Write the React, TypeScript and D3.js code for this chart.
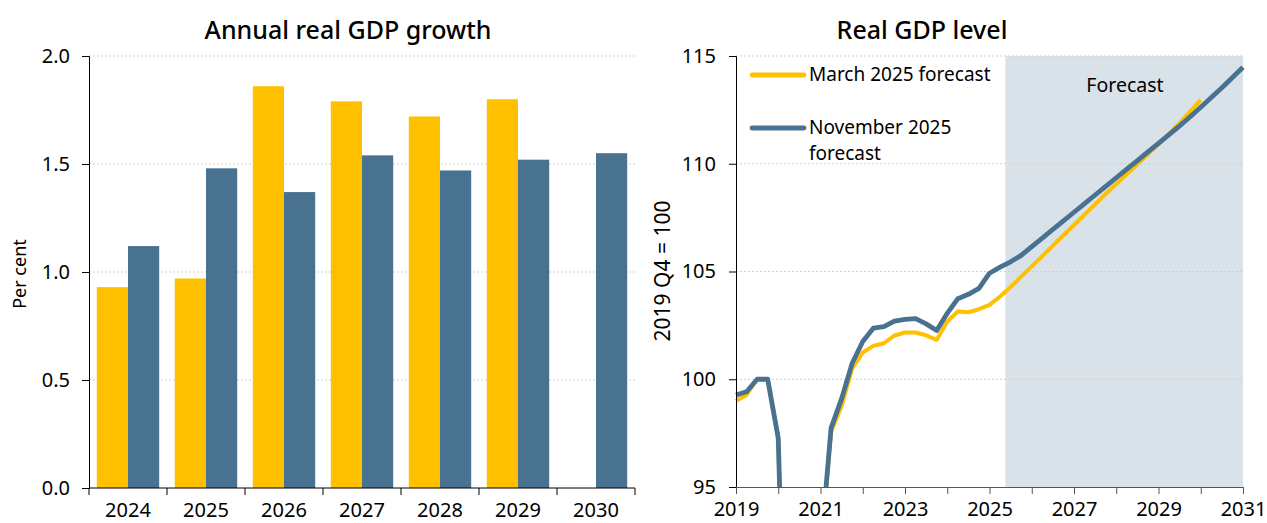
import React, { useRef, useEffect } from 'react';
import * as d3 from 'd3';

// Left panel: annual real GDP growth (per cent)
const barYears = ['2024', '2025', '2026', '2027', '2028', '2029', '2030'];
const marchGrowth = [0.93, 0.97, 1.86, 1.79, 1.72, 1.8, null];
const novemberGrowth = [1.12, 1.48, 1.37, 1.54, 1.47, 1.52, 1.55];
const growthTicks = [0, 0.5, 1.0, 1.5, 2.0];

// Right panel: quarterly real GDP level, 2019 Q4 = 100, first point 2019 Q1
const levelStartYear = 2019;
const marchLevel = [
  98.99, 99.27, 100.0, 100.0,
  97.26, 79.0, 91.8, 93.2,
  91.8, 97.57, 98.75, 100.5,
  101.24, 101.55, 101.67, 102.03,
  102.17, 102.17, 102.04, 101.83,
  102.68, 103.14, 103.11, 103.25,
  103.45, 103.84, 104.28, 104.76,
  105.24, 105.72, 106.2, 106.68,
  107.16, 107.64, 108.12, 108.6,
  109.06, 109.52, 109.98, 110.44,
  110.92, 111.4, 111.9, 112.42,
  112.96,
];
const novemberLevel = [
  99.27, 99.42, 100.0, 100.0,
  97.26, 79.5, 92.0, 93.5,
  92.0, 97.73, 99.1, 100.74,
  101.75, 102.37, 102.44, 102.7,
  102.78, 102.81, 102.57, 102.26,
  103.06, 103.74, 103.94, 104.22,
  104.92, 105.2, 105.45, 105.75,
  106.15, 106.55, 106.95, 107.35,
  107.75, 108.15, 108.55, 108.95,
  109.35, 109.75, 110.15, 110.55,
  110.95, 111.35, 111.76, 112.18,
  112.62, 113.07, 113.53, 114.0,
  114.48,
];
const levelTicks = [95, 100, 105, 110, 115];
const yearTicks = d3.range(2019, 2032);
const forecastStart = 2025.375;

const legendLabels = [['March 2025 forecast'], ['November 2025', 'forecast']];
const YELLOW = '#ffc000';
const BLUE = '#48728f';
const FONT = "'Noto Sans', 'DejaVu Sans', sans-serif";

const App = () => {
  const svgRef = useRef<SVGSVGElement | null>(null);

  useEffect(() => {
    if (!svgRef.current) return;
    const svg = d3.select(svgRef.current);
    svg.selectAll('*').remove();
    svg.attr('font-family', FONT);

    // ---------- left: bars ----------
    const x = d3.scaleBand<string>()
      .domain(barYears)
      .range([89, 635])
      .paddingInner(0.2)
      .paddingOuter(0.1);
    const y = d3.scaleLinear().domain([0, 2]).range([488, 56]);
    const half = x.bandwidth() / 2;
    const edge = x.step() * 0.1;

    const left = svg.append('g');

    left.append('text')
      .attr('x', 348)
      .attr('y', 39)
      .attr('text-anchor', 'middle')
      .attr('font-size', 25)
      .attr('font-weight', 500)
      .text('Annual real GDP growth');

    left.selectAll('.grid')
      .data(growthTicks.slice(1))
      .enter()
      .append('line')
      .attr('x1', 89)
      .attr('x2', 635)
      .attr('y1', d => y(d))
      .attr('y2', d => y(d))
      .attr('stroke', '#cfcfcf')
      .attr('stroke-dasharray', '2,2');

    left.selectAll('.bar-m')
      .data(barYears.map((c, i) => ({ c, v: marchGrowth[i] })).filter(d => d.v != null))
      .enter()
      .append('rect')
      .attr('x', d => x(d.c)!)
      .attr('y', d => y(d.v as number))
      .attr('width', half)
      .attr('height', d => y(0) - y(d.v as number))
      .attr('fill', YELLOW);

    left.selectAll('.bar-n')
      .data(barYears.map((c, i) => ({ c, v: novemberGrowth[i] })))
      .enter()
      .append('rect')
      .attr('x', d => x(d.c)! + half)
      .attr('y', d => y(d.v))
      .attr('width', half)
      .attr('height', d => y(0) - y(d.v))
      .attr('fill', BLUE);

    // y axis
    const yAxis = left.append('g')
      .attr('transform', 'translate(89,0)')
      .call(d3.axisLeft(y).tickValues(growthTicks).tickFormat(d3.format('.1f')).tickSize(7).tickPadding(12));
    yAxis.selectAll('text').attr('font-size', 20).attr('font-family', FONT).attr('fill', '#000');
    yAxis.select('.domain').attr('stroke', '#000');

    // x axis with ticks at band edges
    const xAxisG = left.append('g');
    xAxisG.append('line')
      .attr('x1', 89).attr('x2', 635)
      .attr('y1', 488).attr('y2', 488)
      .attr('stroke', '#000');
    const edges = barYears.map(c => x(c)! - edge).concat([x(barYears[barYears.length - 1])! + x.bandwidth() + edge]);
    xAxisG.selectAll('.tk')
      .data(edges)
      .enter()
      .append('line')
      .attr('x1', d => d).attr('x2', d => d)
      .attr('y1', 488).attr('y2', 495)
      .attr('stroke', '#000');
    xAxisG.selectAll('.lbl')
      .data(barYears)
      .enter()
      .append('text')
      .attr('x', d => x(d)! + x.bandwidth() / 2)
      .attr('y', 517)
      .attr('text-anchor', 'middle')
      .attr('font-size', 20)
      .text(d => d);

    left.append('text')
      .attr('transform', 'translate(26,274) rotate(-90)')
      .attr('text-anchor', 'middle')
      .attr('font-size', 18)
      .text('Per cent');

    // ---------- right: lines ----------
    const xr = d3.scaleLinear().domain([2019, 2031]).range([736, 1243]);
    const yr = d3.scaleLinear().domain([95, 115]).range([487, 56]);
    const right = svg.append('g');

    right.append('text')
      .attr('x', 922)
      .attr('y', 39)
      .attr('text-anchor', 'middle')
      .attr('font-size', 25)
      .attr('font-weight', 500)
      .text('Real GDP level');

    right.append('rect')
      .attr('x', xr(forecastStart))
      .attr('y', yr(115))
      .attr('width', xr(2031) - xr(forecastStart))
      .attr('height', yr(95) - yr(115))
      .attr('fill', '#dae2e9');

    right.append('text')
      .attr('x', 1125)
      .attr('y', 92)
      .attr('text-anchor', 'middle')
      .attr('font-size', 19.5)
      .text('Forecast');

    right.selectAll('.grid')
      .data(levelTicks.slice(1))
      .enter()
      .append('line')
      .attr('x1', 736)
      .attr('x2', 1243)
      .attr('y1', d => yr(d))
      .attr('y2', d => yr(d))
      .attr('stroke', '#cfcfcf')
      .attr('stroke-dasharray', '2,2');

    svg.append('defs')
      .append('clipPath')
      .attr('id', 'plot-clip')
      .append('rect')
      .attr('x', 730).attr('y', 40)
      .attr('width', 530).attr('height', yr(95) - 40);

    const line = d3.line<number>()
      .x((_, i) => xr(levelStartYear + i / 4))
      .y(d => yr(d));

    const lines = right.append('g').attr('clip-path', 'url(#plot-clip)');
    lines.append('path')
      .datum(marchLevel)
      .attr('fill', 'none')
      .attr('stroke', YELLOW)
      .attr('stroke-width', 4)
      .attr('stroke-linejoin', 'round')
      .attr('d', line);
    lines.append('path')
      .datum(novemberLevel)
      .attr('fill', 'none')
      .attr('stroke', BLUE)
      .attr('stroke-width', 4.8)
      .attr('stroke-linejoin', 'round')
      .attr('d', line);

    const yrAxis = right.append('g')
      .attr('transform', 'translate(736,0)')
      .call(d3.axisLeft(yr).tickValues(levelTicks).tickFormat(d3.format('d')).tickSize(7).tickPadding(13));
    yrAxis.selectAll('text').attr('font-size', 20).attr('font-family', FONT).attr('fill', '#000');
    yrAxis.select('.domain').attr('stroke', '#000');

    const xrAxis = right.append('g')
      .attr('transform', 'translate(0,487)')
      .call(d3.axisBottom(xr).tickValues(yearTicks).tickFormat(d => (+d % 2 === 1 ? String(d) : '')).tickSize(7).tickPadding(8));
    xrAxis.selectAll('text').attr('font-size', 20).attr('font-family', FONT).attr('fill', '#000');
    xrAxis.select('.domain').attr('stroke', '#555');
    xrAxis.selectAll('.tick line').attr('stroke', '#555');

    right.append('text')
      .attr('transform', 'translate(670,271) rotate(-90)')
      .attr('text-anchor', 'middle')
      .attr('font-size', 21)
      .text('2019 Q4 = 100');

    // legend
    const legend = right.append('g');
    const legendRows = [
      { color: YELLOW, y: 75, lines: legendLabels[0] },
      { color: BLUE, y: 128, lines: legendLabels[1] },
    ];
    legendRows.forEach(r => {
      legend.append('line')
        .attr('x1', 752).attr('x2', 804)
        .attr('y1', r.y).attr('y2', r.y)
        .attr('stroke', r.color)
        .attr('stroke-width', 4.8)
        .attr('stroke-linecap', 'round');
      r.lines.forEach((t, i) => {
        legend.append('text')
          .attr('x', 809)
          .attr('y', r.y + 6 + i * 26)
          .attr('font-size', 19)
          .text(t);
      });
    });
  }, []);

  return (
    <svg
      ref={svgRef}
      width={1267}
      height={523}
      style={{ position: 'absolute', left: 0, top: 0, background: '#fff' }}
    />
  );
};

export default App;
